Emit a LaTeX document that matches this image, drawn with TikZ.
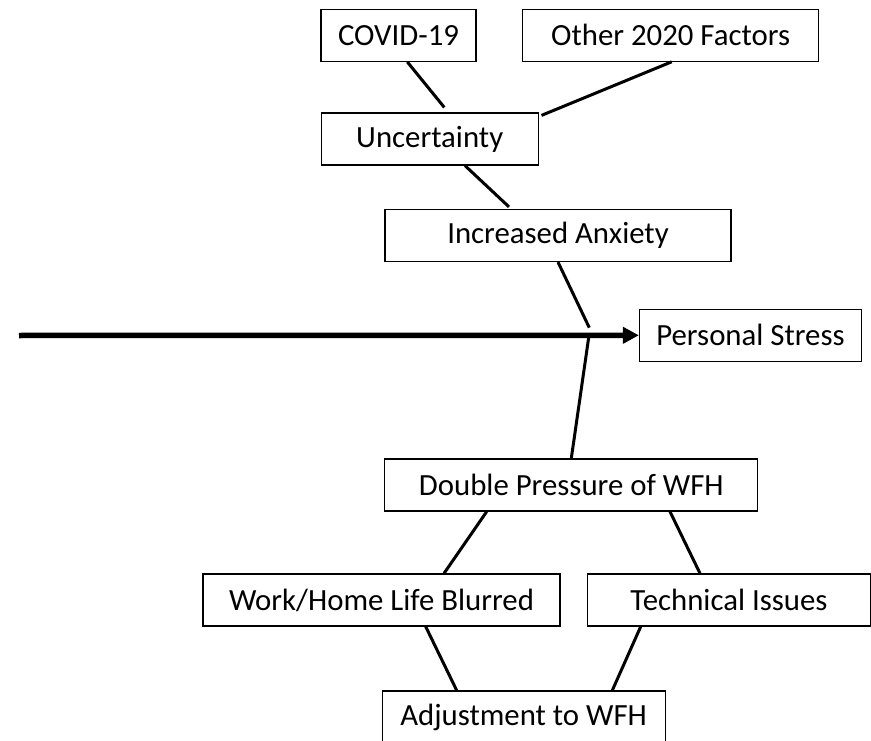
\documentclass[tikz,border=0pt]{standalone}
\usepackage{fontspec}
\setmainfont{Carlito}
\usetikzlibrary{arrows.meta}

\begin{document}
\begin{tikzpicture}[x=1pt, y=-1pt,
    factor/.style={draw, line width=1.2pt, minimum height=52pt, inner sep=0pt,
        font=\fontsize{30.8}{36}\selectfont},
    link/.style={line width=3pt}]
    \useasboundingbox (0,0) rectangle (871,741);
    \clip (0,0) rectangle (871,741);
    % Boxes above the spine
    \node[factor, minimum width=155pt] (covid) at (398.5,35.3) {COVID-19};
    \node[factor, minimum width=296pt] (other) at (670.6,35.2) {Other 2020 Factors};
    \node[factor, minimum width=217pt] (unc) at (429.7,139) {Uncertainty};
    \node[factor, minimum width=346pt] (anx) at (558,235.5) {Increased Anxiety};
    % Effect
    \node[factor, minimum width=222pt] (stress) at (750.5,335.3) {Personal Stress};
    % Boxes below the spine
    \node[factor, minimum width=373pt] (dp) at (571.3,485) {Double Pressure of WFH};
    \node[factor, minimum width=357pt] (work) at (381.5,600) {Work/Home Life Blurred};
    \node[factor, minimum width=283pt] (tech) at (729,600) {Technical Issues};
    \node[factor, minimum width=283pt] (adj) at (523.6,717) {Adjustment to WFH};
    % Spine
    \coordinate (tail) at (19,335.5);
    \coordinate (hub) at (588.8,335.5);
    \draw[line width=5.5pt, -{Triangle[length=16pt,width=16pt]}] (tail) -- (stress.west);
    % Connectors
    \draw[link] ([xshift=8.8pt]covid.south) -- ([xshift=14.6pt,yshift=5pt]unc.north);
    \draw[link] ([xshift=1.1pt]other.south) -- ([xshift=2.7pt,yshift=-3pt]unc.north east);
    \draw[link] ([xshift=35.3pt]unc.south) -- ([xshift=-49pt,yshift=2pt]anx.north);
    \draw[link] (anx.south) -- ([xshift=0.5pt,yshift=7.8pt]hub);
    \draw[link] ([yshift=-1.2pt]hub) -- (dp.north);
    \draw[link] ([xshift=-84.6pt]dp.south) -- ([xshift=62.5pt]work.north);
    \draw[link] ([xshift=98.7pt]dp.south) -- ([xshift=-29pt]tech.north);
    \draw[link] ([xshift=44.2pt]work.south) -- ([xshift=-66.9pt]adj.north);
    \draw[link] ([xshift=-88.3pt]tech.south) -- ([xshift=88.7pt]adj.north);
\end{tikzpicture}
\end{document}
